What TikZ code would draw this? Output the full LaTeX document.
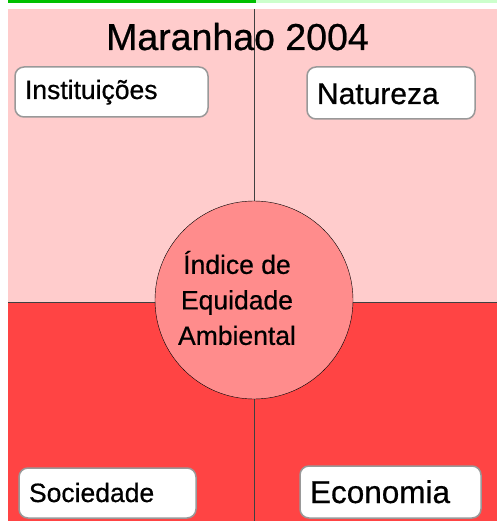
\documentclass[tikz,border=0pt]{standalone}
\usepackage{fontspec}
\setmainfont{Liberation Sans}[FakeBold=0.6]
\definecolor{pinkbg}{HTML}{FFCCCC}
\definecolor{redbg}{HTML}{FF4444}
\definecolor{circfill}{HTML}{FF8C8C}
\definecolor{darkgreen}{HTML}{00C000}
\definecolor{lightgreen}{HTML}{CCFFCC}
\definecolor{boxline}{HTML}{999999}
\tikzset{
	labelbox/.style={draw=boxline,line width=1.5pt,fill=white,rounded corners=9pt,inner xsep=10pt,inner ysep=0pt,align=left,text depth=4pt}
}
\begin{document}
\begin{tikzpicture}[x=1pt,y=-1pt]
	\useasboundingbox (0,0) rectangle (497,521);
	\fill[white] (0,0) rectangle (497,521);
	\fill[darkgreen] (8,0) rectangle (256,3);
	\fill[lightgreen] (256,0) rectangle (497,3);
	\fill[pinkbg] (8,9) rectangle (497,302);
	\fill[redbg] (8,302) rectangle (497,521);
	\begin{scope}[thin,draw=black!75]
	\draw (254,9) -- (254,521);
	\draw (8,302) -- (497,302);
	\end{scope}
	\node (title) at (237.5,50) [anchor=base,inner sep=0pt,font=\fontsize{37.5}{40}\selectfont] {Maranhao 2004};
	\node (indice) at (254,300) [circle,draw,thin,fill=circfill,minimum size=198pt,inner sep=0pt,
		label={[font=\fontsize{26.5}{35.5}\selectfont,align=center,xshift=-17pt,yshift=2pt]center:{Índice de\\Equidade\\Ambiental}}] {};
	\node (inst) at (111.5,92) [labelbox,minimum height=50pt,text width=173pt,text height=18pt,font=\fontsize{26.5}{30}\selectfont] {Instituições};
	\node (nat) at (391,93) [labelbox,minimum height=52pt,text width=148pt,text height=26pt,font=\fontsize{30}{33}\selectfont] {Natureza};
	\node (soc) at (107.5,493) [labelbox,minimum height=50pt,text width=157pt,text height=22pt,font=\fontsize{26.5}{30}\selectfont] {Sociedade};
	\node (eco) at (390.5,492) [labelbox,minimum height=52pt,text width=161pt,text height=26pt,font=\fontsize{31.5}{34}\selectfont] {Economia};
\end{tikzpicture}
\end{document}
